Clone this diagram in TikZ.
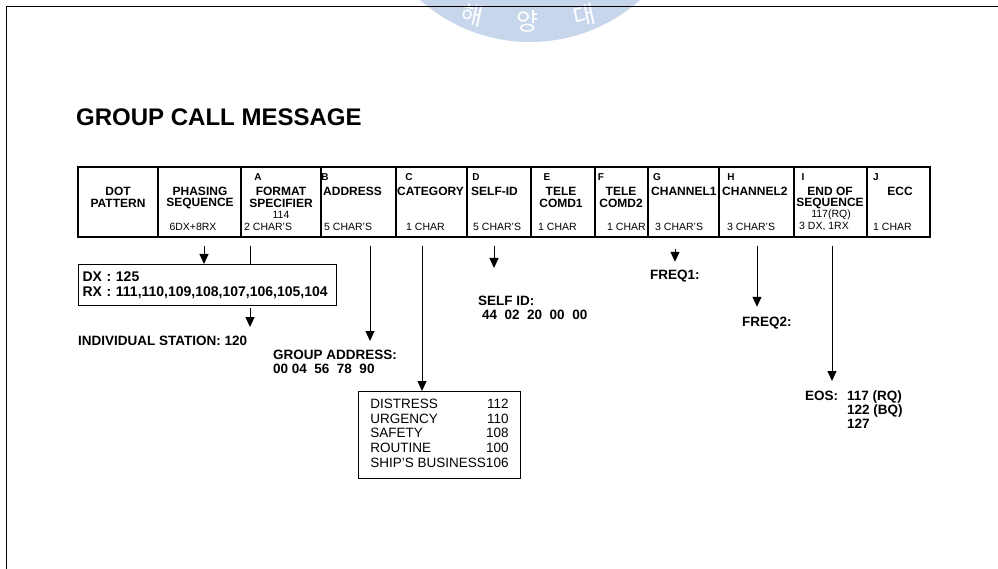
\documentclass[tikz,border=0pt]{standalone}
\usepackage{fontspec}
\setmainfont{Liberation Sans}
\newfontfamily\korfont{Noto Sans CJK KR}
\usetikzlibrary{arrows.meta}
\newcommand\fsz[1]{\fontsize{#1}{#1}\selectfont}
\definecolor{wmblue}{RGB}{200,214,236}

\begin{document}
\begin{tikzpicture}[x=1pt,y=-1pt,
 lab/.style={font=\bfseries\fsz{13.5},inner sep=0pt},
 hd/.style={font=\bfseries\fsz{12},inner sep=0pt},
 sm/.style={font=\fsz{10.5},inner sep=0pt},
 ltr/.style={font=\bfseries\fsz{10},inner sep=0pt},
 cell/.style={draw,line width=1.2pt,minimum height=70pt,inner sep=0pt},
 arr/.style={line width=1pt,-{Triangle[length=10pt,width=9pt]}}]
\useasboundingbox (0,0) rectangle (998,569);
% watermark
\begin{scope}
\clip (0,0) rectangle (998,569);
\fill[wmblue] (530,-123) circle (165pt);
\foreach \n/\x/\y/\a/\t in {wA/472/15/-12/해,wB/528/21/0/양,wC/584/15/12/대}
  \node[font=\korfont\fsz{24},text=white,rotate=\a,inner sep=0pt] (\n) at (\x,\y) {\t};
\end{scope}
\draw[line width=1pt] (998,7)--(6,7)--(6,569);
\node[font=\bfseries\fsz{24},anchor=west,inner sep=0pt] (title) at (76,117) {GROUP CALL MESSAGE};
% message fields
\foreach \n/\l/\r in {cDot/78/158,cPhs/158/241,cFmt/241/321,cAdr/321/396,cCat/396/467,cSid/467/531,cTc1/531/595,cTc2/595/648,cCh1/648/719,cCh2/719/794,cEos/794/867,cEcc/867/930}
  \node[cell,minimum width=\r-\l] (\n) at ({(\l+\r)/2},202) {};
\foreach \c/\x in {A/258,B/325,C/409,D/476,E/547,F/601,G/657,H/731,I/803,J/876}
  \node[ltr] (l\c) at (\x,177) {\c};
\foreach \n/\x/\y/\t in {hDot/118/191/DOT,hPat/118/203/PATTERN,hPhs/200/191/PHASING,hSeq/200/203/SEQUENCE,hFmt/281/191/FORMAT,hSpc/281/203/SPECIFIER,hTe1/561/191/TELE,hCm1/561/203/COMD1,hTe2/621/191/TELE,hCm2/621/203/COMD2,hEnd/830/191/END OF,hEsq/830/203/SEQUENCE,hEcc/900/191/ECC}
  \node[hd] (\n) at (\x,\y) {\t};
\foreach \n/\x/\t in {hAdr/323/ADDRESS,hCat/397/CATEGORY,hSid/471/SELF-ID,hCh1/651/CHANNEL1,hCh2/722/CHANNEL2}
  \node[hd,anchor=west] (\n) at (\x,191) {\t};
\foreach \n/\x/\y/\t in {sPhs/193/227/6DX+8RX,sFmv/281/215/114,sEov/831/215/117(RQ),sEos/824/227/{3 DX, 1RX}}
  \node[sm] (\n) at (\x,\y) {\t};
\foreach \n/\x/\t in {sFmt/244/2 CHAR'S,sAdr/324/5 CHAR'S,sCat/406/1 CHAR,sSid/473/5 CHAR'S,sTc1/538/1 CHAR,sTc2/607/1 CHAR,sCh1/655/3 CHAR'S,sCh2/727/3 CHAR'S,sEcc/873/1 CHAR}
  \node[sm,anchor=west] (\n) at (\x,227) {\t};
% decoded values
\node[draw,line width=1pt,anchor=north west,text width=250pt,minimum height=41pt,inner sep=4pt,align=left,font=\bfseries\fontsize{14}{15}\selectfont] (dxrx) at (78,264) {DX : 125\\RX : 111,110,109,108,107,106,105,104};
\node[lab,anchor=west] (indiv) at (78,341) {INDIVIDUAL STATION: 120};
\node[lab,anchor=north west,align=left] (grp) at (273,350) {GROUP ADDRESS:\\00 04\ \ 56\ \ 78\ \ 90};
\node[draw,line width=1pt,anchor=north west,minimum width=162pt,minimum height=87pt,inner sep=0pt,font=\fontsize{13.5}{14.7}\selectfont] (catbox) at (358,391) {\begin{tabular}{@{}l@{}r@{}}DISTRESS&112\\URGENCY&110\\SAFETY&108\\ROUTINE&100\\SHIP'S BUSINESS&106\end{tabular}};
\node[lab,anchor=north west,align=left] (selfid) at (478,296) {SELF ID:\\\hspace{4pt}44\ \ 02\ \ 20\ \ 00\ \ 00};
\node[lab,anchor=west] (freq1) at (650,276) {FREQ1:};
\node[lab,anchor=west] (freq2) at (742,323) {FREQ2:};
\node[lab,anchor=north west] (eos) at (805,391) {\begin{tabular}{@{}l@{\hspace{9pt}}l@{}}EOS:&117 (RQ)\\&122 (BQ)\\&127\end{tabular}};
% pointers
\foreach \n/\x in {phs/204,fmt/250,adr/370,cat/422,sid/494,ch1/675,ch2/757,eos/832}
  \coordinate (x\n) at (\x,0);
\draw[arr,shorten <=8pt] (cPhs.south -| xphs) -- (dxrx.north -| xphs);
\draw[line width=1pt,shorten <=8pt] (cFmt.south -| xfmt) -- (dxrx.north -| xfmt);
\draw[arr,shorten <=2pt,shorten >=9pt] (dxrx.south -| xfmt) -- (indiv.north -| xfmt);
\draw[arr,shorten <=8pt,shorten >=9pt] (cAdr.south -| xadr) -- (grp.north -| xadr);
\draw[arr,shorten <=8pt] (cCat.south -| xcat) -- (catbox.north -| xcat);
\draw[arr,shorten <=8pt,shorten >=28pt] (cSid.south -| xsid) -- (selfid.north -| xsid);
\draw[arr,shorten <=11pt,shorten >=8pt] (cCh1.south -| xch1) -- (freq1.north -| xch1);
\draw[arr,shorten <=8pt,shorten >=10pt] (cCh2.south -| xch2) -- (freq2.north -| xch2);
\draw[arr,shorten <=8pt,shorten >=10pt] (cEos.south -| xeos) -- (eos.north -| xeos);
\end{tikzpicture}
\end{document}
